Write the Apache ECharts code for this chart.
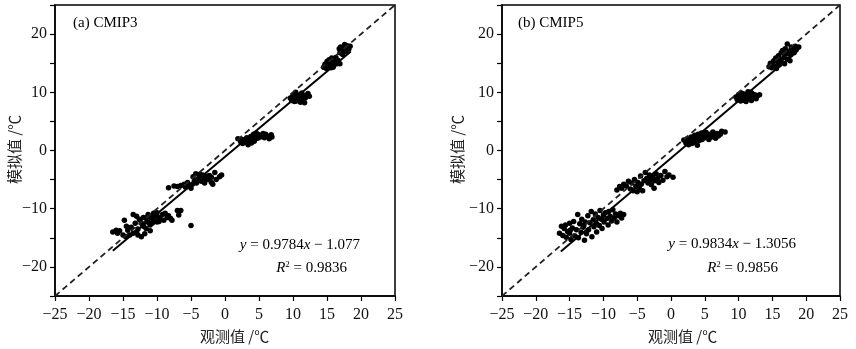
<!DOCTYPE html>
<html>
<head>
<meta charset="utf-8">
<script src="https://cdn.jsdelivr.net/npm/echarts@6/dist/echarts.min.js"></script>
<style>
  html, body { margin: 0; padding: 0; background: #fff; }
  #chart { width: 856px; height: 349px; }
</style>
</head>
<body>
<div id="chart"></div>
<script>
// axis ticks (both panels share them)
var tickValues = [-25, -20, -15, -10, -5, 0, 5, 10, 15, 20, 25];
var yLabelValues = [-20, -10, 0, 10, 20];

// (a) CMIP3 scatter, [observed, simulated]
var cmip3Points = [
  // around -12
  [-16.5,-14],[-16,-13.7],[-15.8,-14.2],[-15.5,-13.8],[-15,-14.5],[-14.8,-12],[-14.5,-13],[-14.3,-13.7],
  [-14,-14.5],[-13.8,-13.2],[-13.5,-11],[-13.5,-14.2],[-13.2,-12.5],[-13,-14],[-13,-11.3],[-12.8,-13.5],
  [-12.8,-14.5],[-12.5,-12],[-12.3,-14.8],[-12.2,-12.6],[-12,-11.5],[-12,-13],[-11.8,-14.3],[-11.5,-12.2],
  [-11.5,-11.5],[-11.3,-11],[-11.2,-12.4],[-11,-12.8],[-11,-13.8],[-10.8,-11.5],[-10.7,-12.5],[-10.5,-10.8],
  [-10.5,-12],[-10.2,-11.2],[-10,-12.3],[-10,-10.7],[-9.8,-11.5],[-9.7,-12.2],[-9.5,-11.8],[-9.2,-11],
  [-9,-12],[-8.8,-10.8],[-8.5,-11.5],[-8.3,-11.2],[-8,-11.7],[-7.8,-12],[-7,-10.3],[-6.5,-10.3],
  [-6.8,-11.1],[-5,-12.9],[-14.6,-14.8],[-12.6,-11.8],[-11.6,-13.4],
  // around -5
  [-8.3,-6.4],[-7.5,-6.1],[-7,-6.2],[-6.5,-6],[-6,-5.8],[-5.8,-6.3],[-5.8,-5.9],[-5.5,-5.5],[-5.2,-6.1],
  [-5,-6.5],[-4.8,-5.8],[-4.7,-4.5],[-4.5,-5.2],[-4.3,-4],[-4.2,-5.6],[-4,-5],[-3.8,-4.7],[-3.7,-4.1],
  [-3.5,-5.3],[-3.3,-4.2],[-3,-4.8],[-3,-5.6],[-2.8,-4.4],[-2.5,-5],[-2.3,-4.3],[-2,-5.5],[-2,-4.6],
  [-1.8,-5.8],[-1.5,-3.8],[-1.3,-5],[-0.8,-4.5],[-0.5,-4.2],
  // around 2
  [1.9,2],[2.3,1.5],[2.5,1.9],[2.6,1.2],[2.8,1.8],[3,1.4],[3.2,2.2],[3.4,1],[3.5,1.7],[3.6,2.1],
  [3.8,2.4],[3.9,1.3],[4,2],[4.1,2.3],[4.2,2.8],[4.3,1.6],[4.4,1.9],[4.5,2.5],[4.6,3],[4.8,2.1],
  [5,2.7],[5.2,2.3],[5.5,2.5],[5.6,2.9],[5.8,2.2],[6,2.8],[6.3,2.4],[6.5,2],[6.8,2.7],[6.9,2.3],
  // around 9
  [9.6,9],[9.8,8.6],[9.9,9.1],[10,9.5],[10.1,8.8],[10.2,8.4],[10.3,9.2],[10.4,10],[10.5,8.5],[10.7,9.3],
  [10.8,8.9],[11,9.6],[11.1,8.3],[11.2,9.1],[11.3,9.9],[11.4,8.7],[11.5,9.4],[11.7,8.2],[11.8,9],
  [12,9.5],[12.2,9.8],[12.4,9.3],
  // around 16
  [14.5,14.3],[14.7,14.8],[14.9,14.1],[15,15.3],[15.2,14.5],[15.3,15.6],[15.5,14.8],[15.6,14.2],
  [15.7,15.9],[15.8,15.1],[15.9,14.3],[16,14.6],[16,15.6],[16.2,15.2],[16.3,16],[16.5,14.9],[16.6,15.5],
  [16.8,17.5],[16.9,16.8],[16.9,14.9],[17,17.8],[17.2,17.2],[17.3,16.5],[17.5,17.6],[17.6,18.2],
  [17.8,17],[17.9,17.7],[18,18],[18.2,17.4],[18.4,17.9]
];

// (b) CMIP5 scatter
var cmip5Points = [
  // around -12
  [-16.5,-14.2],[-16.2,-13],[-16,-14.6],[-15.8,-13.4],[-15.6,-12.8],[-15.5,-14.9],[-15.3,-13.9],[-15,-12.5],
  [-15,-14.2],[-14.8,-15.3],[-14.6,-13.3],[-14.4,-12.2],[-14.2,-14.7],[-14,-13.6],[-13.8,-11],[-13.7,-15],
  [-13.5,-12.6],[-13.3,-14.1],[-13.2,-11.8],[-13,-13.2],[-12.8,-15.4],[-12.7,-12.3],[-12.5,-14.3],[-12.3,-11.2],
  [-12.2,-13.6],[-12,-12.4],[-11.8,-10.5],[-11.7,-14.8],[-11.5,-11.9],[-11.4,-13.1],[-11.2,-10.9],[-11,-12.6],
  [-11,-14],[-10.8,-11.5],[-10.6,-12.9],[-10.5,-10.3],[-10.3,-11.8],[-10.2,-13.4],[-10,-11.1],[-9.9,-12.3],
  [-9.7,-10.7],[-9.5,-11.7],[-9.3,-12.8],[-9.2,-10.5],[-9,-11.3],[-8.8,-12.1],[-8.6,-10.2],[-8.4,-11.6],
  [-8.2,-10.9],[-8,-12.3],[-7.8,-11.2],[-7.5,-10.8],[-7.3,-11.6],[-7,-11],[-12.9,-12.9],[-14.9,-13.7],
  // around -5
  [-8,-6.8],[-7.6,-6.2],[-7.3,-6.5],[-7,-5.8],[-6.6,-6.1],[-6.3,-5.3],[-6,-6.6],[-5.8,-5.6],[-5.6,-6.9],
  [-5.4,-5],[-5.2,-6.2],[-5,-7.1],[-4.9,-5.5],[-4.7,-6.5],[-4.5,-4.4],[-4.4,-5.8],[-4.2,-6.9],[-4,-5.2],
  [-3.8,-3.8],[-3.6,-4.8],[-3.4,-5.6],[-3.2,-4.2],[-3,-5],[-2.9,-5.9],[-2.7,-4.5],[-2.5,-6.5],[-2.4,-5.2],
  [-2.2,-4],[-2,-4.8],[-1.8,-5.5],[-1.5,-4.3],[-1.2,-5.1],[-0.9,-3.6],[-0.6,-4.5],[-0.3,-4.2],[0.3,-4.6],
  // around 2
  [1.9,1.8],[2.2,1.3],[2.4,2],[2.6,1],[2.8,1.6],[3,2.3],[3.1,1.2],[3.3,1.8],[3.5,2.6],[3.6,1.4],
  [3.8,2.1],[3.9,0.9],[4,2.8],[4.2,1.7],[4.3,2.4],[4.5,3],[4.6,1.9],[4.8,2.6],[5,2.2],[5.2,3.1],
  [5.4,2.5],[5.6,1.9],[5.8,2.8],[6,2.3],[6.2,3.2],[6.4,2.6],[6.6,2.1],[6.8,2.9],[7,2.5],[7.3,2.8],
  [7.5,3.3],[8,3.2],
  // around 9
  [9.6,9.2],[9.8,8.7],[10,9.6],[10.1,9],[10.3,8.5],[10.4,9.9],[10.5,9.3],[10.7,8.8],[10.8,9.7],
  [11,9.1],[11.1,8.4],[11.3,9.5],[11.4,10.1],[11.5,8.9],[11.7,9.3],[11.9,8.6],[12,9.8],[12.2,9.2],
  [12.4,9.6],[12.6,8.9],[12.8,9.4],[13.1,9.6],[10.9,8.6],[11.8,10],
  // around 16
  [14.5,14.4],[14.7,15],[14.9,14.2],[15,14.8],[15.2,15.4],[15.3,14.5],[15.5,15.9],[15.6,14.1],
  [15.8,15.2],[15.9,16.3],[16,14.7],[16.1,15.6],[16.3,16.8],[16.4,15.1],[16.5,17.2],[16.7,16],
  [16.8,14.9],[16.9,17.5],[17,16.6],[17.2,18.3],[17.3,15.7],[17.5,17.1],[17.7,16.4],[17.8,17.8],
  [18,17.3],[18.2,16.8],[18.4,17.9],[18.6,17.5],[18.9,17.8],[17.6,15.4]
];

// fit lines
var fitA = { slope: 0.9784, intercept: -1.077, from: -16.5, to: 18.5 };
var fitB = { slope: 0.9834, intercept: -1.3056, from: -16.3, to: 18.8 };

var FONT = '"Liberation Serif", "Times New Roman", serif';
var CJK = '"Noto Sans CJK SC", sans-serif';

const fitLine = f => [
  [f.from, f.slope * f.from + f.intercept],
  [f.to, f.slope * f.to + f.intercept],
];
const minus = v => (v < 0 ? '\u2212' + (-v) : String(v));

const makeX = idx => ({
  gridIndex: idx,
  type: 'value',
  min: -25,
  max: 25,
  interval: 5,
  axisLine: { onZero: false, lineStyle: { color: '#000', width: 1.5 } },
  axisTick: { length: 5, lineStyle: { color: '#000', width: 1.2 } },
  axisLabel: { color: '#111', fontFamily: FONT, fontSize: 16, margin: 11, formatter: minus },
  splitLine: { show: false },
});
const makeY = idx => ({
  gridIndex: idx,
  type: 'value',
  min: -25,
  max: 25,
  interval: 5,
  axisLine: { onZero: false, lineStyle: { color: '#000', width: 1.5 } },
  axisTick: { length: 5, lineStyle: { color: '#000', width: 1.2 } },
  axisLabel: {
    color: '#111', fontFamily: FONT, fontSize: 16, margin: 8,
    formatter: v => (yLabelValues.indexOf(v) >= 0 ? minus(v) : ''),
  },
  splitLine: { show: false },
});

const panelSeries = (idx, pts, fit) => [
  {
    type: 'line', xAxisIndex: idx, yAxisIndex: idx, silent: true,
    data: [[tickValues[0], tickValues[0]], [tickValues[10], tickValues[10]]],
    showSymbol: false,
    lineStyle: { color: '#222', width: 1.8, type: [6, 4] },
  },
  {
    type: 'scatter', xAxisIndex: idx, yAxisIndex: idx,
    data: pts, symbolSize: 5.5,
    itemStyle: { color: '#000', opacity: 1 },
  },
  {
    type: 'line', xAxisIndex: idx, yAxisIndex: idx, silent: true,
    data: fitLine(fit), showSymbol: false,
    lineStyle: { color: '#000', width: 2 },
  },
];

const txt = (x, y, text, extra) => Object.assign({
  type: 'text', x: x, y: y,
  style: Object.assign({ text: text, fill: '#000', font: '15px ' + FONT }, extra || {}),
});

const eqRich = {
  i: { fontFamily: FONT, fontStyle: 'italic', fontSize: 15, fill: '#000' },
  n: { fontFamily: FONT, fontSize: 15, fill: '#000' },
  s: { fontFamily: FONT, fontSize: 9, fill: '#000', verticalAlign: 'top', padding: [0, 0, 8, 0] },
};

var chart = echarts.init(document.getElementById('chart'), null, { renderer: 'canvas' });
chart.setOption({
  animation: false,
  grid: [
    { left: 55, top: 5, width: 340, height: 291, show: true, borderColor: '#000', borderWidth: 1.5, backgroundColor: 'transparent' },
    { left: 502, top: 5, width: 338, height: 291, show: true, borderColor: '#000', borderWidth: 1.5, backgroundColor: 'transparent' },
  ],
  xAxis: [makeX(0), makeX(1)],
  yAxis: [makeY(0), makeY(1)],
  series: panelSeries(0, cmip3Points, fitA).concat(panelSeries(1, cmip5Points, fitB)),
  graphic: [
    txt(73, 16, '(a) CMIP3'),
    txt(518, 16, '(b) CMIP5'),
    {
      type: 'text', right: 856 - 360, top: 238,
      style: { text: '{i|y}{n| = 0.9784}{i|x}{n| \u2212 1.077}', rich: eqRich },
    },
    {
      type: 'text', right: 856 - 347, top: 260,
      style: { text: '{i|R}{s|2}{n| = 0.9836}', rich: eqRich },
    },
    {
      type: 'text', right: 856 - 796, top: 237,
      style: { text: '{i|y}{n| = 0.9834}{i|x}{n| \u2212 1.3056}', rich: eqRich },
    },
    {
      type: 'text', right: 856 - 778, top: 260,
      style: { text: '{i|R}{s|2}{n| = 0.9856}', rich: eqRich },
    },
    txt(200, 329, '观测值 /\u2103', { font: '15px ' + CJK, fill: '#222' }),
    txt(648, 329, '观测值 /\u2103', { font: '15px ' + CJK, fill: '#222' }),
    {
      type: 'text', x: 7, y: 184, rotation: Math.PI / 2,
      style: { text: '模拟值 /\u2103', fill: '#222', font: '15px ' + CJK },
    },
    {
      type: 'text', x: 450, y: 184, rotation: Math.PI / 2,
      style: { text: '模拟值 /\u2103', fill: '#222', font: '15px ' + CJK },
    },
  ],
});
</script>
</body>
</html>
